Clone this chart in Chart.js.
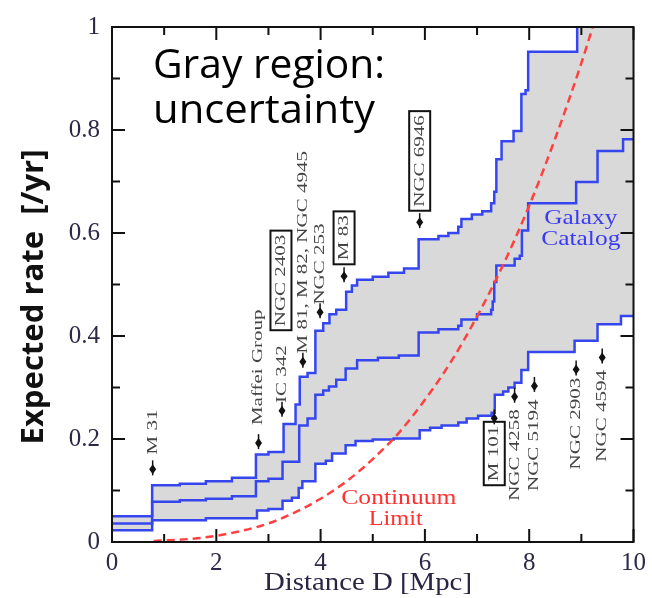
<!DOCTYPE html>
<html>
<head>
<meta charset="utf-8">
<script src="https://cdn.jsdelivr.net/npm/chart.js@4.4.1/dist/chart.umd.min.js"></script>
<style>
  html, body { margin: 0; padding: 0; background: #fff; }
  canvas { display: block; }
</style>
</head>
<body>
<canvas id="rateChart" width="652" height="598"></canvas>
<script>
// Expected supernova rate vs distance, step curves from the galaxy catalog
const upperD    = [0, 0.77, 1.3, 1.8, 2.3, 2.76, 3.0, 3.29, 3.52, 3.6, 3.75, 3.9, 4.05, 4.17, 4.3, 4.49, 4.6, 4.7, 5.0, 5.3, 5.6, 5.88, 6.26, 6.45, 6.64, 6.7, 6.9, 7.1, 7.27, 7.33, 7.37, 7.47, 7.7, 7.85, 7.93, 7.98, 8.92, 10];
const upperRate = [0.050, 0.110, 0.113, 0.118, 0.125, 0.170, 0.175, 0.229, 0.267, 0.321, 0.328, 0.410, 0.425, 0.442, 0.451, 0.486, 0.498, 0.509, 0.515, 0.523, 0.531, 0.588, 0.594, 0.600, 0.612, 0.627, 0.636, 0.642, 0.658, 0.680, 0.743, 0.778, 0.798, 0.870, 0.877, 0.952, 1.1, 1.1];

const middleD    = [0, 0.77, 1.3, 1.8, 2.3, 2.76, 3.0, 3.27, 3.59, 3.75, 3.9, 4.05, 4.16, 4.3, 4.48, 4.7, 5.1, 5.5, 5.88, 6.26, 6.64, 6.7, 7.0, 7.27, 7.3, 7.33, 7.37, 7.72, 7.82, 7.86, 7.98, 8.9, 9.31, 9.8, 10];
const middleRate = [0.036, 0.078, 0.081, 0.084, 0.089, 0.118, 0.123, 0.156, 0.226, 0.240, 0.286, 0.294, 0.302, 0.315, 0.337, 0.353, 0.358, 0.362, 0.407, 0.413, 0.420, 0.432, 0.442, 0.451, 0.467, 0.505, 0.537, 0.550, 0.556, 0.605, 0.658, 0.699, 0.759, 0.782, 0.782];

const lowerD    = [0, 0.77, 1.8, 2.78, 3.0, 3.27, 3.45, 3.58, 3.65, 3.9, 4.1, 4.22, 4.48, 4.67, 5.0, 5.4, 5.9, 6.1, 6.32, 6.64, 6.8, 7.02, 7.28, 7.34, 7.5, 7.6, 7.72, 7.85, 7.98, 8.87, 9.31, 9.76, 10];
const lowerRate = [0.023, 0.042, 0.046, 0.061, 0.064, 0.080, 0.086, 0.105, 0.118, 0.152, 0.158, 0.172, 0.188, 0.196, 0.199, 0.201, 0.217, 0.222, 0.226, 0.232, 0.240, 0.245, 0.251, 0.286, 0.292, 0.300, 0.309, 0.334, 0.369, 0.391, 0.423, 0.439, 0.439];

// continuum limit (dashed red)
const limitD    = [0.8, 1.5, 2, 2.5, 3, 3.5, 4, 4.5, 5, 5.5, 6, 6.5, 7, 7.5, 8, 8.5, 9, 9.4];
const limitRate = [0.002, 0.006, 0.012, 0.022, 0.036, 0.057, 0.084, 0.118, 0.161, 0.212, 0.276, 0.350, 0.438, 0.538, 0.653, 0.784, 0.930, 1.06];

const xTickLabels = ['0', '2', '4', '6', '8', '10'];
const yTickLabels = ['0', '0.2', '0.4', '0.6', '0.8', '1'];
const xMinor = [1, 3, 5, 7, 9];
const yMinor = [0.1, 0.3, 0.5, 0.7, 0.9];

// nearby galaxies: name, distance [Mpc]
const galaxyNames = ['M 31', 'Maffei Group', 'IC 342', 'NGC 2403', 'M 81, M 82, NGC 4945', 'NGC 253', 'M 83', 'NGC 6946', 'M 101', 'NGC 4258', 'NGC 5194', 'NGC 2903', 'NGC 4594'];
const galaxyDist  = [0.78, 2.81, 3.26, 3.24, 3.66, 3.99, 4.45, 5.90, 7.33, 7.72, 8.10, 8.90, 9.40];
const galaxyBoxed = [false, false, false, true, false, false, true, true, true, false, false, false, false];
// where each label text starts (rate units) and where its marker sits
const labelBase   = [0.170, 0.227, 0.270, 0.419, 0.366, 0.461, 0.547, 0.651, 0.118, 0.080, 0.099, 0.141, 0.156];
const markerRate  = [0.143, 0.194, 0.257, null, 0.352, 0.448, 0.518, 0.623, 0.242, 0.284, 0.305, 0.337, 0.360];

const blue = '#3546ef';
const tickColor = '#2d2a48';

const pts = (xs, ys) => xs.map((x, i) => ({ x: x, y: ys[i] }));

function stretchText(ctx, text, x, y, sx, angle) {
    ctx.save();
    ctx.translate(x, y);
    if (angle) ctx.rotate(angle);
    ctx.scale(sx, 1);
    ctx.fillText(text, 0, 0);
    ctx.restore();
}

function fitText(ctx, text, x, y, width, angle) {
    const w = ctx.measureText(text).width;
    stretchText(ctx, text, x, y, width / w, angle);
}

function drawMarker(ctx, x, y) {
    ctx.save();
    ctx.strokeStyle = '#111';
    ctx.fillStyle = '#111';
    ctx.lineWidth = 1.5;
    ctx.beginPath();
    ctx.moveTo(x, y - 8);
    ctx.lineTo(x, y + 7);
    ctx.stroke();
    ctx.beginPath();
    ctx.moveTo(x, y - 4);
    ctx.lineTo(x + 3.5, y + 1);
    ctx.lineTo(x, y + 6);
    ctx.lineTo(x - 3.5, y + 1);
    ctx.closePath();
    ctx.fill();
    ctx.restore();
}

const decorations = {
    id: 'decorations',
    afterDraw(chart) {
        const ctx = chart.ctx;
        const area = chart.chartArea;
        const xs = chart.scales.x, ys = chart.scales.y;

        // frame
        ctx.save();
        ctx.strokeStyle = '#111';
        ctx.lineWidth = 2;
        ctx.strokeRect(area.left, area.top, area.right - area.left, area.bottom - area.top);

        // inward ticks on all four sides
        ctx.lineWidth = 2;
        ctx.beginPath();
        const xMajor = xTickLabels.map(Number);
        const yMajor = yTickLabels.map(Number);
        [[xMajor, 13], [xMinor, 8]].forEach(([vals, len]) => {
            vals.forEach(v => {
                const px = xs.getPixelForValue(v);
                ctx.moveTo(px, area.bottom); ctx.lineTo(px, area.bottom - len);
                ctx.moveTo(px, area.top); ctx.lineTo(px, area.top + len);
            });
        });
        [[yMajor, 13], [yMinor, 8]].forEach(([vals, len]) => {
            vals.forEach(v => {
                const py = ys.getPixelForValue(v);
                ctx.moveTo(area.left, py); ctx.lineTo(area.left + len, py);
                ctx.moveTo(area.right, py); ctx.lineTo(area.right - len, py);
            });
        });
        ctx.stroke();

        // galaxy labels with markers
        ctx.font = "15px 'Liberation Serif'";
        ctx.textAlign = 'left';
        ctx.textBaseline = 'middle';
        galaxyNames.forEach((name, i) => {
            const px = xs.getPixelForValue(galaxyDist[i]);
            const py = ys.getPixelForValue(labelBase[i]);
            const len = ctx.measureText(name).width * 1.4;
            ctx.fillStyle = '#454545';
            stretchText(ctx, name, px, py, 1.4, -Math.PI / 2);
            if (galaxyBoxed[i]) {
                ctx.strokeStyle = '#111';
                ctx.lineWidth = 2;
                ctx.strokeRect(px - 10.5, py - len - 4, 21, len + 8);
            }
            if (markerRate[i] !== null) {
                drawMarker(ctx, px, ys.getPixelForValue(markerRate[i]));
            }
        });

        // curve captions
        ctx.textAlign = 'center';
        ctx.font = "21px 'Liberation Serif'";
        ctx.fillStyle = '#3a3af5';
        fitText(ctx, 'Galaxy', xs.getPixelForValue(8.99), ys.getPixelForValue(0.629), 73);
        fitText(ctx, 'Catalog', xs.getPixelForValue(8.99), ys.getPixelForValue(0.587), 79);
        ctx.font = "20px 'Liberation Serif'";
        ctx.fillStyle = '#ff3030';
        fitText(ctx, 'Continuum', xs.getPixelForValue(5.50), ys.getPixelForValue(0.084), 115);
        fitText(ctx, 'Limit', xs.getPixelForValue(5.44), ys.getPixelForValue(0.044), 54);

        // axis titles
        ctx.fillStyle = '#111';
        ctx.font = "bold 30px 'Open Sans'";
        fitText(ctx, 'Expected rate  [/yr]', 34, 297, 295, -Math.PI / 2);
        ctx.fillStyle = '#2a2545';
        ctx.font = "26px 'Liberation Serif'";
        fitText(ctx, 'Distance D [Mpc]', 368, 583, 208);

        // overlay note
        ctx.fillStyle = '#000';
        ctx.textAlign = 'left';
        ctx.textBaseline = 'alphabetic';
        ctx.font = "40px 'Open Sans'";
        fitText(ctx, 'Gray region:', 153, 78, 232);
        fitText(ctx, 'uncertainty', 153, 123, 222);
        ctx.restore();
    }
};

const stepLine = (data, extra) => Object.assign({
    data: data,
    stepped: true,
    borderColor: blue,
    borderWidth: 2.5,
    pointRadius: 0,
    fill: false,
    clip: 0
}, extra);

new Chart(document.getElementById('rateChart'), {
    type: 'line',
    data: {
        datasets: [
            {
                label: 'Continuum Limit',
                data: pts(limitD, limitRate),
                borderColor: '#ff4040',
                borderWidth: 2.5,
                borderDash: [8, 5],
                pointRadius: 0,
                cubicInterpolationMode: 'monotone',
                fill: false,
                clip: 0
            },
            stepLine(pts(upperD, upperRate), { label: 'upper', fill: 3, backgroundColor: '#d9d9d9' }),
            stepLine(pts(middleD, middleRate), { label: 'middle' }),
            stepLine(pts(lowerD, lowerRate), { label: 'lower' })
        ]
    },
    options: {
        responsive: false,
        animation: false,
        layout: { padding: { top: 17, right: 16 } },
        plugins: {
            legend: { display: false },
            tooltip: { enabled: false },
            filler: { drawTime: 'beforeDatasetsDraw', propagate: false }
        },
        scales: {
            x: {
                type: 'linear',
                min: 0,
                max: 10,
                afterFit(s) { s.height = 56; },
                grid: { display: false, drawTicks: false },
                border: { display: false },
                ticks: {
                    stepSize: 2,
                    padding: 6,
                    autoSkip: false,
                    maxRotation: 0,
                    color: tickColor,
                    font: { family: 'Liberation Serif', size: 25 },
                    callback: (v, i) => xTickLabels[i]
                }
            },
            y: {
                type: 'linear',
                min: 0,
                max: 1,
                afterFit(s) { s.width = 112; },
                grid: { display: false, drawTicks: false },
                border: { display: false },
                ticks: {
                    stepSize: 0.2,
                    padding: 12,
                    color: tickColor,
                    font: { family: 'Liberation Serif', size: 25 },
                    callback: (v, i) => yTickLabels[i]
                }
            }
        }
    },
    plugins: [decorations]
});
</script>
</body>
</html>
